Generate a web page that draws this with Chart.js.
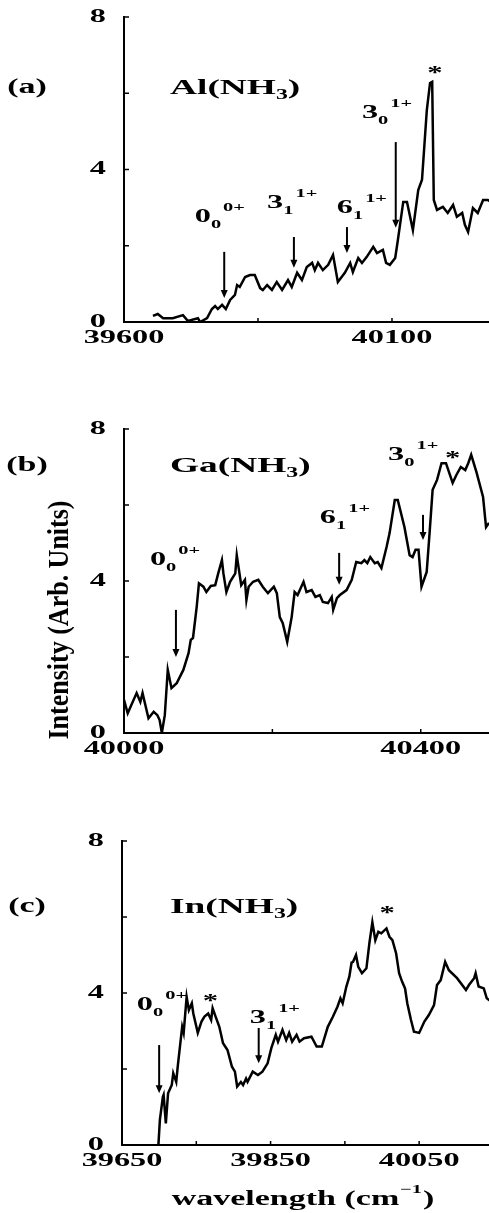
<!DOCTYPE html>
<html>
<head>
<meta charset="utf-8">
<script src="https://cdn.jsdelivr.net/npm/chart.js@4.4.0/dist/chart.umd.min.js"></script>
<style>
  html, body { margin: 0; padding: 0; background: #fff; }
  body { width: 489px; height: 1213px; position: relative; overflow: hidden; }
  canvas { position: absolute; left: 0; }
</style>
</head>
<body>
<canvas id="panel-a" width="489" height="350" style="top:0px"></canvas>
<canvas id="panel-b" width="489" height="380" style="top:390px"></canvas>
<canvas id="panel-c" width="489" height="423" style="top:790px"></canvas>
<script>
// (a) Al(NH3)
const alWavenumber = [39654, 39663, 39673, 39691, 39710, 39719, 39738, 39742, 39755, 39764, 39770, 39775, 39783, 39790, 39798, 39807, 39811, 39816, 39826, 39835, 39844, 39854, 39859, 39867, 39876, 39885, 39895, 39906, 39913, 39923, 39932, 39941, 39951, 39956, 39962, 39971, 39981, 39990, 39999, 40012, 40022, 40027, 40037, 40044, 40053, 40065, 40072, 40083, 40089, 40096, 40106, 40111, 40121, 40128, 40139, 40149, 40156, 40165, 40171, 40175, 40178, 40184, 40195, 40204, 40214, 40221, 40231, 40236, 40242, 40251, 40260, 40270, 40279, 40290];
const alIntensity = [0.16, 0.21, 0.10, 0.10, 0.18, 0.03, 0.10, 0.00, 0.10, 0.34, 0.42, 0.34, 0.45, 0.34, 0.58, 0.71, 0.97, 0.92, 1.18, 1.23, 1.23, 0.89, 0.84, 0.97, 0.84, 1.05, 0.84, 1.10, 0.92, 1.29, 1.10, 1.44, 1.55, 1.36, 1.55, 1.36, 1.50, 1.76, 1.05, 1.29, 1.55, 1.31, 1.68, 1.55, 1.71, 1.97, 1.81, 1.89, 1.55, 1.50, 1.68, 2.15, 3.15, 3.15, 2.41, 3.46, 3.73, 5.56, 6.27, 6.30, 3.20, 2.94, 3.02, 2.86, 3.07, 2.76, 2.86, 2.55, 2.36, 2.99, 2.86, 3.20, 3.20, 3.10];

// (b) Ga(NH3)
const gaWavenumber = [40000, 40005, 40017, 40022, 40025, 40033, 40040, 40045, 40048, 40051, 40055, 40059, 40064, 40071, 40080, 40087, 40090, 40093, 40098, 40101, 40107, 40111, 40117, 40123, 40127, 40132, 40134, 40138, 40143, 40150, 40152, 40158, 40163, 40165, 40168, 40174, 40181, 40187, 40194, 40202, 40206, 40210, 40214, 40220, 40226, 40230, 40234, 40242, 40246, 40253, 40258, 40264, 40268, 40275, 40280, 40282, 40287, 40291, 40300, 40307, 40313, 40320, 40324, 40328, 40332, 40338, 40342, 40347, 40354, 40358, 40365, 40369, 40378, 40385, 40389, 40393, 40397, 40401, 40408, 40412, 40416, 40422, 40428, 40434, 40443, 40448, 40454, 40460, 40464, 40468, 40475, 40484, 40488, 40492];
const gaIntensity = [0.87, 0.52, 1.05, 0.82, 1.05, 0.39, 0.56, 0.47, 0.34, 0.00, 0.47, 1.66, 1.18, 1.31, 1.66, 2.10, 2.45, 2.50, 3.32, 3.94, 3.85, 3.71, 3.87, 3.89, 4.20, 4.55, 4.20, 3.71, 3.98, 4.20, 4.68, 3.89, 4.03, 3.50, 3.85, 3.98, 4.03, 3.85, 3.68, 3.85, 3.68, 3.05, 2.89, 2.40, 3.05, 3.71, 3.63, 3.98, 3.71, 3.76, 3.58, 3.63, 3.45, 3.42, 3.58, 3.24, 3.55, 3.63, 3.76, 4.03, 4.50, 4.47, 4.55, 4.47, 4.63, 4.47, 4.50, 4.34, 4.90, 5.26, 6.13, 6.13, 5.42, 4.68, 4.63, 4.82, 4.82, 3.85, 4.24, 5.29, 6.40, 6.66, 7.10, 7.10, 6.58, 6.79, 7.00, 6.92, 7.10, 7.32, 6.87, 6.21, 5.42, 5.53];

// (c) In(NH3)
const inWavenumber = [39699, 39701, 39705, 39706, 39709, 39712, 39717, 39719, 39723, 39725, 39728, 39731, 39733, 39737, 39740, 39744, 39746, 39752, 39757, 39761, 39766, 39770, 39772, 39776, 39781, 39786, 39792, 39798, 39802, 39805, 39810, 39813, 39817, 39819, 39826, 39833, 39839, 39846, 39851, 39857, 39860, 39866, 39871, 39875, 39879, 39885, 39889, 39895, 39905, 39912, 39919, 39927, 39934, 39940, 39944, 39947, 39952, 39956, 39959, 39961, 39965, 39968, 39973, 39979, 39983, 39987, 39991, 39995, 39999, 40006, 40010, 40014, 40019, 40023, 40027, 40031, 40034, 40039, 40043, 40050, 40057, 40063, 40070, 40074, 40079, 40085, 40090, 40101, 40113, 40117, 40124, 40126, 40130, 40137, 40141, 40145];
const inIntensity = [0.00, 0.66, 1.27, 1.32, 0.57, 1.36, 1.58, 1.89, 1.66, 2.06, 2.59, 3.11, 2.95, 3.90, 3.55, 3.73, 3.46, 2.95, 3.25, 3.38, 3.46, 3.29, 3.60, 3.38, 3.11, 2.68, 2.50, 2.06, 1.93, 1.54, 1.66, 1.58, 1.75, 1.66, 1.93, 1.84, 1.93, 2.15, 2.55, 2.90, 2.72, 3.03, 2.76, 2.95, 2.72, 2.90, 2.72, 2.81, 2.85, 2.59, 2.59, 3.11, 3.38, 3.64, 3.86, 3.73, 4.17, 4.43, 4.80, 4.82, 5.00, 4.69, 4.52, 4.65, 5.31, 5.86, 5.39, 5.61, 5.57, 5.70, 5.48, 5.39, 5.04, 4.52, 4.30, 4.12, 3.73, 3.29, 2.98, 2.95, 3.25, 3.42, 3.68, 4.21, 4.34, 4.82, 4.60, 4.39, 4.08, 4.21, 4.39, 4.52, 4.17, 4.12, 3.86, 3.80];

// axis ticks
const intensityTicks = [0, 4, 8];
const intensityMarks = [0, 2, 4, 6, 8];
const alWaveTicks = [39600, 40100];
const alWaveMarks = [39600, 39850, 40100];
const gaWaveTicks = [40000, 40400];
const gaWaveMarks = [40000, 40200, 40400];
const inWaveTicks = [39650, 39850, 40050];
const inWaveMarks = [39750, 39850, 39950, 40050];

// band assignments: [wavenumber, arrow top, arrow tip]
const alArrows = [[39787, 1.84, 0.63], [39917, 2.23, 1.42], [40016, 2.49, 1.81], [40107, 4.72, 2.47]];
const gaArrows = [[40070, 3.24, 2.0], [40290, 4.74, 3.9], [40403, 5.74, 5.08]];
const inArrows = [[39700, 2.63, 1.36], [39834, 3.08, 2.15]];
// band labels: [wavenumber, intensity, main, sub, sup]
const alBands = [[39732, 2.62, '0', '0', '0+'], [39867, 2.99, '3', '1', '1+'], [39997, 2.86, '6', '1', '1+'], [40044, 5.35, '3', '0', '1+']];
const gaBands = [[40035, 4.42, '0', '0', '0+'], [40264, 5.53, '6', '1', '1+'], [40356, 7.18, '3', '0', '1+']];
const inBands = [[39670, 3.55, '0', '0', '0+'], [39822, 3.21, '3', '1', '1+']];
const alStars = [[40180, 6.61]];
const gaStars = [[40443, 7.32]];
const inStars = [[39769, 3.87], [40007, 6.18]];

const SX = 1.7; // the figure text is stretched sideways
const FONT = '"Liberation Serif", "Times New Roman", serif';

const stretchText = (ctx, text, x, y, size, align, baseline) => {
    ctx.save();
    ctx.font = 'bold ' + size + 'px ' + FONT;
    ctx.textAlign = 'left';
    ctx.textBaseline = baseline || 'alphabetic';
    const w = ctx.measureText(text).width * SX;
    const left = align === 'center' ? x - w / 2 : align === 'right' ? x - w : x;
    ctx.translate(left, y);
    ctx.scale(SX, 1);
    ctx.fillStyle = '#000';
    ctx.fillText(text, 0, 0);
    ctx.restore();
    return w;
};

const drawCompound = (ctx, left, midY, metal) => {
    let x = left;
    x += stretchText(ctx, metal + '(NH', x, midY, 22, 'left', 'middle');
    x += stretchText(ctx, '3', x, midY + 7, 14, 'left', 'middle');
    stretchText(ctx, ')', x, midY, 22, 'left', 'middle');
};

const drawBand = (ctx, px, py, main, sub, sup) => {
    let x = px;
    x += stretchText(ctx, main, x, py, 19);
    const sw = stretchText(ctx, sub, x, py + 6, 12);
    stretchText(ctx, sup, x + sw + 2, py - 11, 12);
};

const drawArrow = (ctx, x, yTop, yTip) => {
    ctx.beginPath();
    ctx.moveTo(x, yTop);
    ctx.lineTo(x, yTip - 6);
    ctx.stroke();
    ctx.beginPath();
    ctx.moveTo(x - 3.5, yTip - 8);
    ctx.lineTo(x + 3.5, yTip - 8);
    ctx.lineTo(x, yTip);
    ctx.closePath();
    ctx.fill();
};

const makeDecor = (panel) => ({
    id: 'decor',
    afterDraw(chart) {
        const { ctx, chartArea: area } = chart;
        const xs = chart.scales.x;
        const ys = chart.scales.y;
        ctx.save();
        ctx.strokeStyle = '#000';
        ctx.fillStyle = '#000';
        ctx.lineWidth = 1.5;
        panel.yMarks.forEach(v => {
            const py = ys.getPixelForValue(v);
            ctx.beginPath(); ctx.moveTo(area.left, py); ctx.lineTo(area.left + 5, py); ctx.stroke();
        });
        panel.xMarks.forEach(v => {
            const px = xs.getPixelForValue(v);
            ctx.beginPath(); ctx.moveTo(px, area.bottom); ctx.lineTo(px, area.bottom - 4); ctx.stroke();
        });
        panel.yTicks.forEach(v => stretchText(ctx, String(v), area.left - 18, ys.getPixelForValue(v), 19, 'right', 'middle'));
        panel.xTicks.forEach(v => stretchText(ctx, String(v), xs.getPixelForValue(v), area.bottom + 16, 19, 'center', 'middle'));

        ctx.lineWidth = 2;
        panel.arrows.forEach(([w, top, tip]) => drawArrow(ctx, xs.getPixelForValue(w), ys.getPixelForValue(top), ys.getPixelForValue(tip)));
        panel.bands.forEach(([w, v, main, sub, sup]) => drawBand(ctx, xs.getPixelForValue(w), ys.getPixelForValue(v), main, sub, sup));
        panel.stars.forEach(([w, v]) => stretchText(ctx, '*', xs.getPixelForValue(w), ys.getPixelForValue(v) + 9, 18, 'center'));

        stretchText(ctx, panel.letter, 27, panel.titleY, 20, 'center', 'middle');
        drawCompound(ctx, 170, panel.titleY, panel.metal);
        if (panel.extra) panel.extra(ctx, area);
        ctx.restore();
    }
});

const renderPanel = (id, panel) => {
    const ctx = document.getElementById(id).getContext('2d');
    return new Chart(ctx, {
        type: 'line',
        data: {
            datasets: [{
                data: panel.wave.map((w, i) => ({ x: w, y: panel.signal[i] })),
                borderColor: '#000',
                borderWidth: 2.5,
                pointRadius: 0,
                tension: 0,
                fill: false
            }]
        },
        options: {
            responsive: false,
            animation: false,
            events: [],
            layout: { padding: panel.padding },
            plugins: { legend: { display: false }, tooltip: { enabled: false } },
            scales: {
                x: {
                    type: 'linear', min: panel.xMin, max: panel.xMax,
                    ticks: { display: false },
                    grid: { drawOnChartArea: false, drawTicks: false },
                    border: { display: true, color: '#000', width: 2 },
                    afterFit: s => { s.height = 0; }
                },
                y: {
                    type: 'linear', min: 0, max: 8,
                    ticks: { display: false },
                    grid: { drawOnChartArea: false, drawTicks: false },
                    border: { display: true, color: '#000', width: 2 },
                    afterFit: s => { s.width = 0; }
                }
            }
        },
        plugins: [makeDecor(panel)]
    });
};

renderPanel('panel-a', {
    wave: alWavenumber, signal: alIntensity,
    xMin: 39600, xMax: 40281,
    padding: { left: 124, top: 17, right: 0, bottom: 28 },
    xTicks: alWaveTicks, xMarks: alWaveMarks, yTicks: intensityTicks, yMarks: intensityMarks,
    arrows: alArrows, bands: alBands, stars: alStars,
    letter: '(a)', metal: 'Al', titleY: 88
});

renderPanel('panel-b', {
    wave: gaWavenumber, signal: gaIntensity,
    xMin: 40000, xMax: 40492,
    padding: { left: 124, top: 39, right: 0, bottom: 37 },
    xTicks: gaWaveTicks, xMarks: gaWaveMarks, yTicks: intensityTicks, yMarks: intensityMarks,
    arrows: gaArrows, bands: gaBands, stars: gaStars,
    letter: '(b)', metal: 'Ga', titleY: 76,
    extra: (ctx) => {
        ctx.save();
        ctx.translate(60, 230);
        ctx.rotate(-Math.PI / 2);
        ctx.font = 'bold 20px ' + FONT;
        ctx.textAlign = 'center';
        ctx.textBaseline = 'middle';
        const label = 'Intensity (Arb. Units)';
        const w = ctx.measureText(label).width;
        ctx.scale(239 / w, 1.5);
        ctx.fillText(label, 0, 0);
        ctx.restore();
    }
});

renderPanel('panel-c', {
    wave: inWavenumber, signal: inIntensity,
    xMin: 39650, xMax: 40144,
    padding: { left: 122, top: 51, right: 0, bottom: 68 },
    xTicks: inWaveTicks, xMarks: inWaveMarks, yTicks: intensityTicks, yMarks: intensityMarks,
    arrows: inArrows, bands: inBands, stars: inStars,
    letter: '(c)', metal: 'In', titleY: 117,
    extra: (ctx) => {
        const y = 410;
        const ctxFont = 'bold 20px ' + FONT;
        ctx.font = ctxFont;
        const a = ctx.measureText('wavelength (cm').width * SX;
        ctx.font = 'bold 12px ' + FONT;
        const b = ctx.measureText('\u22121').width * SX;
        ctx.font = ctxFont;
        const c = ctx.measureText(')').width * SX;
        let x = 302 - (a + b + c) / 2;
        x += stretchText(ctx, 'wavelength (cm', x, y, 20, 'left', 'middle');
        x += stretchText(ctx, '\u22121', x + 1, y - 10, 12, 'left', 'middle');
        stretchText(ctx, ')', x + 2, y, 20, 'left', 'middle');
    }
});
</script>
</body>
</html>
